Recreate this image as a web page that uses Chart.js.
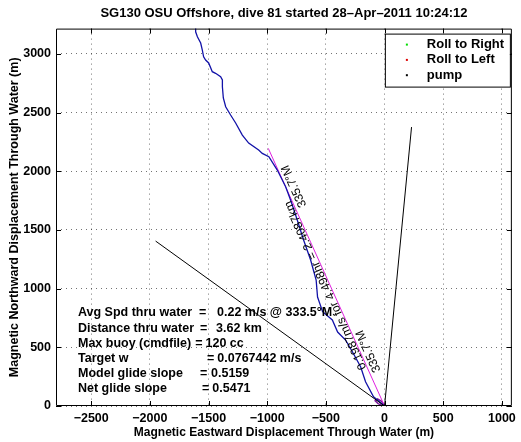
<!DOCTYPE html>
<html><head><meta charset="utf-8">
<script src="https://cdn.jsdelivr.net/npm/chart.js@4.4.0/dist/chart.umd.min.js"></script>
<style>html,body{margin:0;padding:0;background:#fff;}</style>
</head><body>
<canvas id="c" width="521" height="442"></canvas>
<script>
// ---------------- data ----------------
const xTicks = [-2500, -2000, -1500, -1000, -500, 0, 500, 1000];
const yTicks = [0, 500, 1000, 1500, 2000, 2500, 3000];

const trackX = [0, -94, -162, -204, -273, -332, -400, -445, -528, -571, -583, -630, -690, -744, -801, -843, -914, -986, -1042, -1073, -1158, -1212, -1269, -1312, -1354, -1374, -1382, -1382, -1397, -1440, -1468, -1499, -1525, -1542, -1553, -1567, -1595, -1610, -1610];
const trackY = [0, 79, 207, 335, 460, 562, 630, 733, 803, 928, 1073, 1244, 1414, 1584, 1755, 1868, 2010, 2124, 2152, 2181, 2240, 2308, 2411, 2479, 2549, 2624, 2720, 2777, 2805, 2834, 2848, 2922, 2947, 2975, 3032, 3092, 3146, 3188, 3231];

const bearingX = [0, -991];
const bearingY = [0, 2195];

const leftLineX = [0, -1951];
const leftLineY = [0, 1405];
const rightLineX = [0, 230];
const rightLineY = [0, 2376];

const startLoopX = [0, -25, -60, -80, -55, -20, 0];
const startLoopY = [0, 40, 60, 45, 20, 5, 0];

const legendLabels = ['Roll to Right', 'Roll to Left', 'pump'];
const legendColors = ['#00dd00', '#dd0000', '#000000'];

const statLabels = ['Avg Spd thru water', 'Distance thru water', 'Max buoy (cmdfile)', 'Target w', 'Model glide slope', 'Net glide slope'];
const statValues = ['0.22 m/s @ 333.5\u00b0M', '3.62 km', '120 cc', '0.0767442 m/s', '0.5159', '0.5471'];

const bearingText = '335.7\u00b0M';
const speedText = '0.1987m/s for 4.498hr = 2.4087km';

const titleText = 'SG130 OSU Offshore, dive 81 started 28\u2013Apr\u20132011 10:24:12';
const xTitle = 'Magnetic Eastward Displacement Through Water (m)';
const yTitle = 'Magnetic Northward Displacement Through Water (m)';

// ---------------- helpers ----------------
const FONT = "'Liberation Sans', Arial, Helvetica, sans-serif";
const pts = (xs, ys) => xs.map((x, i) => ({x: x, y: ys[i]}));
const fmt = v => (v < 0 ? '\u2212' + Math.abs(v) : '' + v);

// layout (pixels, not data)
const statRowOffsets = [-93, -77, -62, -47, -32, -17];
const statCols = [
  [22, 143, 161],
  [22, 144, 160],
  [22, 127, 137],
  [22, 151, 161],
  [22, 144, 155],
  [22, 146, 156]
];

const framePlugin = {
  id: 'frame',
  afterDatasetsDraw(chart) {
    const {ctx, chartArea: a, scales} = chart;
    ctx.save();
    ctx.strokeStyle = '#000';
    ctx.lineWidth = 1;
    ctx.beginPath();
    ctx.rect(a.left + 0.5, a.top + 0.5, a.right - a.left - 1, a.bottom - a.top - 1);
    ctx.stroke();
    const tl = 5;
    ctx.beginPath();
    xTicks.forEach(v => {
      const px = Math.round(scales.x.getPixelForValue(v)) + 0.5;
      ctx.moveTo(px, a.bottom); ctx.lineTo(px, a.bottom - tl);
      ctx.moveTo(px, a.top); ctx.lineTo(px, a.top + tl);
    });
    yTicks.forEach(v => {
      const py = Math.round(scales.y.getPixelForValue(v)) + 0.5;
      ctx.moveTo(a.left, py); ctx.lineTo(a.left + tl, py);
      ctx.moveTo(a.right, py); ctx.lineTo(a.right - tl, py);
    });
    ctx.stroke();

    // labels along bearing line
    const xs = scales.x, ys = scales.y;
    const p0 = {x: xs.getPixelForValue(bearingX[0]), y: ys.getPixelForValue(bearingY[0])};
    const p1 = {x: xs.getPixelForValue(bearingX[1]), y: ys.getPixelForValue(bearingY[1])};
    const dx = p1.x - p0.x, dy = p1.y - p0.y;
    const len = Math.hypot(dx, dy);
    const ux = dx / len, uy = dy / len;
    const nx = -uy, ny = ux;
    const ang = Math.atan2(dy, dx);
    const lbls = [
      {text: bearingText, t: 0.2, off: 8},
      {text: bearingText, t: 0.84, off: 8},
      {text: speedText, t: 0.475, off: -4}
    ];
    ctx.fillStyle = '#000';
    ctx.font = '12px ' + FONT;
    ctx.textAlign = 'center';
    ctx.textBaseline = 'middle';
    lbls.forEach(l => {
      const px = p0.x + dx * l.t + nx * l.off;
      const py = p0.y + dy * l.t + ny * l.off;
      ctx.save();
      ctx.translate(px, py);
      ctx.rotate(ang);
      ctx.fillText(l.text, 0, 0);
      ctx.restore();
    });

    // stats text block
    ctx.font = 'bold 12.5px ' + FONT;
    ctx.textAlign = 'left';
    ctx.textBaseline = 'middle';
    statLabels.forEach((s, i) => {
      const y = a.bottom + statRowOffsets[i];
      const c = statCols[i];
      const x0 = a.left + c[0];
      const endLbl = x0 + ctx.measureText(s).width;
      const xEq = Math.max(a.left + c[1], endLbl + 4);
      const xVal = Math.max(a.left + c[2], xEq + ctx.measureText('=').width + 3);
      ctx.fillText(s, x0, y);
      ctx.fillText('=', xEq, y);
      ctx.fillText(statValues[i], xVal, y);
    });

    // legend box
    const bw = 125, bh = 53;
    const bx = a.right - 2 - bw, by = a.top + 5;
    ctx.fillStyle = '#fff';
    ctx.fillRect(bx, by, bw, bh);
    ctx.strokeStyle = '#000';
    ctx.strokeRect(bx + 0.5, by + 0.5, bw, bh);
    ctx.font = 'bold 13px ' + FONT;
    legendLabels.forEach((t, i) => {
      const yy = by + 11 + i * 15.3;
      ctx.fillStyle = legendColors[i];
      ctx.fillRect(bx + 21, yy - 1, 2, 2);
      ctx.fillStyle = '#000';
      ctx.fillText(t, bx + 42, yy);
    });
    ctx.restore();
  }
};

new Chart(document.getElementById('c'), {
  type: 'scatter',
  data: {
    datasets: [
      {label: 'current left', data: pts(leftLineX, leftLineY), showLine: true, borderColor: '#000', borderWidth: 1, pointRadius: 0},
      {label: 'current right', data: pts(rightLineX, rightLineY), showLine: true, borderColor: '#000', borderWidth: 1, pointRadius: 0},
      {label: 'track', data: pts(trackX, trackY), showLine: true, borderColor: '#1212a8', borderWidth: 1.3, pointRadius: 0, tension: 0},
      {label: 'bearing', data: pts(bearingX, bearingY), showLine: true, borderColor: '#e020e0', borderWidth: 1, pointRadius: 0},
      {label: 'start', data: pts(startLoopX, startLoopY), showLine: true, borderColor: '#7a1a9a', borderWidth: 1.5, pointRadius: 0},
      {label: legendLabels[0], data: [], pointRadius: 1, backgroundColor: legendColors[0]},
      {label: legendLabels[1], data: [], pointRadius: 1, backgroundColor: legendColors[1]},
      {label: legendLabels[2], data: [], pointRadius: 1, backgroundColor: legendColors[2]}
    ]
  },
  options: {
    responsive: false,
    animation: false,
    devicePixelRatio: 1,
    layout: {padding: {left: 0, right: 9, top: 0, bottom: 0}},
    plugins: {
      legend: {display: false},
      tooltip: {enabled: false},
      title: {display: true, fullSize: false, text: titleText, color: '#000', font: {family: FONT, size: 13, weight: 'bold'}, padding: {top: 6, bottom: 7}}
    },
    scales: {
      x: {
        type: 'linear', min: -2800, max: 1085,
        afterBuildTicks: s => { s.ticks = xTicks.map(v => ({value: v})); },
        afterFit: s => { s.height = 36; },
        grid: {color: 'rgba(0,0,0,0.55)', lineWidth: 1, drawTicks: false},
        border: {display: false, dash: [1, 4]},
        ticks: {color: '#000', font: {family: FONT, size: 12.5, weight: 'bold'}, padding: 5, maxRotation: 0, autoSkip: false, callback: v => fmt(v)},
        title: {display: true, text: xTitle, color: '#000', font: {family: FONT, size: 12, weight: 'bold'}, padding: {top: 0, bottom: 2}}
      },
      y: {
        type: 'linear', min: 0, max: 3215,
        afterBuildTicks: s => { s.ticks = yTicks.map(v => ({value: v})); },
        afterFit: s => { s.width = 56; },
        grid: {color: 'rgba(0,0,0,0.55)', lineWidth: 1, drawTicks: false},
        border: {display: false, dash: [1, 4]},
        ticks: {color: '#000', font: {family: FONT, size: 12.5, weight: 'bold'}, padding: 5, autoSkip: false, callback: v => fmt(v)},
        title: {display: true, text: yTitle, color: '#000', font: {family: FONT, size: 12.5, weight: 'bold'}, padding: {top: 7, bottom: 0}}
      }
    }
  },
  plugins: [framePlugin]
});
</script>
</body></html>
